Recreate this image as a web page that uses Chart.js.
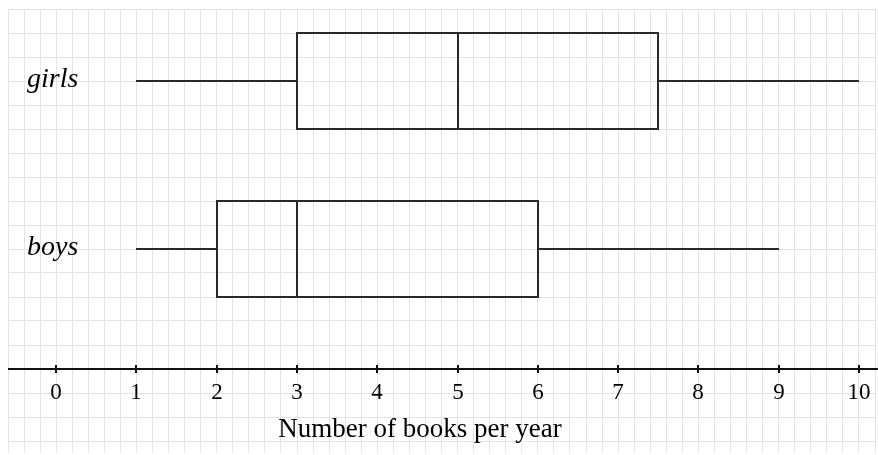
<!DOCTYPE html>
<html>
<head>
<meta charset="utf-8">
<title>Books per year box plots</title>
<script src="https://cdn.jsdelivr.net/npm/chart.js@4.4.1/dist/chart.umd.min.js"></script>
<style>
  html, body { margin: 0; padding: 0; background: #fff; }
  canvas { display: block; }
</style>
</head>
<body>
<canvas id="boxChart" width="878" height="455"></canvas>
<script>
// Box plot data
const categories = ["girls", "boys"]
const minValues = [1, 1]
const q1Values = [3, 2]
const medianValues = [5, 3]
const q3Values = [7.5, 6]
const maxValues = [10, 9]
const xTickValues = [0, 1, 2, 3, 4, 5, 6, 7, 8, 9, 10]
const xTickLabels = ["0", "1", "2", "3", "4", "5", "6", "7", "8", "9", "10"]
const axisTitle = "Number of books per year"

// Row centres on the (grid) y scale, and half height of each box
const rowCenters = [15, 8]
const boxHalf = 2
const axisRow = 3

const lineColor = "#2a2a2a"
const serif = "'Liberation Serif', 'Times New Roman', serif"

// Draws the box plots, the number line and the labels using the chart scales
const boxPlotPlugin = {
  id: "boxPlot",
  afterDraw(chart) {
    const { ctx, chartArea, scales } = chart
    const x = (v) => Math.round(scales.x.getPixelForValue(v))
    const y = (v) => Math.round(scales.y.getPixelForValue(v))

    ctx.save()
    ctx.strokeStyle = lineColor
    ctx.lineWidth = 2
    ctx.lineCap = "butt"

    categories.forEach((cat, i) => {
      const yc = y(rowCenters[i])
      const yt = y(rowCenters[i] + boxHalf)
      const yb = y(rowCenters[i] - boxHalf)

      // whiskers
      ctx.beginPath()
      ctx.moveTo(x(minValues[i]), yc)
      ctx.lineTo(x(q1Values[i]), yc)
      ctx.moveTo(x(q3Values[i]), yc)
      ctx.lineTo(x(maxValues[i]), yc)
      ctx.stroke()

      // box
      ctx.strokeRect(x(q1Values[i]), yt, x(q3Values[i]) - x(q1Values[i]), yb - yt)

      // median
      ctx.beginPath()
      ctx.moveTo(x(medianValues[i]), yt)
      ctx.lineTo(x(medianValues[i]), yb)
      ctx.stroke()

      // row label
      ctx.fillStyle = "#000"
      ctx.font = "italic 28px " + serif
      ctx.textAlign = "left"
      ctx.textBaseline = "alphabetic"
      ctx.fillText(cat, 27, yc + 6)
    })

    // number line
    const ya = y(axisRow)
    ctx.strokeStyle = "#111"
    ctx.beginPath()
    ctx.moveTo(chartArea.left, ya)
    ctx.lineTo(chart.width, ya)
    ctx.stroke()

    ctx.fillStyle = "#000"
    ctx.font = "23px " + serif
    ctx.textAlign = "center"
    ctx.textBaseline = "alphabetic"
    xTickValues.forEach((v, i) => {
      const px = x(v)
      ctx.beginPath()
      ctx.moveTo(px, ya - 4)
      ctx.lineTo(px, ya + 4)
      ctx.stroke()
      ctx.fillText(xTickLabels[i], px, ya + 30)
    })

    ctx.font = "27px " + serif
    ctx.fillText(axisTitle, 420, ya + 68)
    ctx.restore()
  },
}

const gridStyle = {
  color: "#e4e4e4",
  lineWidth: 1,
  drawTicks: false,
}

new Chart(document.getElementById("boxChart").getContext("2d"), {
  type: "scatter",
  data: { datasets: [] },
  options: {
    responsive: false,
    animation: false,
    events: [],
    layout: { padding: { left: 8, top: 9, right: 3, bottom: 2 } },
    plugins: { legend: { display: false }, tooltip: { enabled: false } },
    scales: {
      x: {
        type: "linear",
        min: -0.6,
        max: 10.2,
        grid: gridStyle,
        border: { display: false },
        ticks: { display: false },
        afterBuildTicks: (scale) => {
          const ticks = []
          for (let k = -3; k <= 51; k++) ticks.push({ value: k / 5 })
          scale.ticks = ticks
        },
      },
      y: {
        type: "linear",
        min: -0.5,
        max: 18,
        grid: gridStyle,
        border: { display: false },
        ticks: { display: false },
        afterBuildTicks: (scale) => {
          const ticks = []
          for (let k = 0; k <= 18; k++) ticks.push({ value: k })
          scale.ticks = ticks
        },
      },
    },
  },
  plugins: [boxPlotPlugin],
})
</script>
</body>
</html>
